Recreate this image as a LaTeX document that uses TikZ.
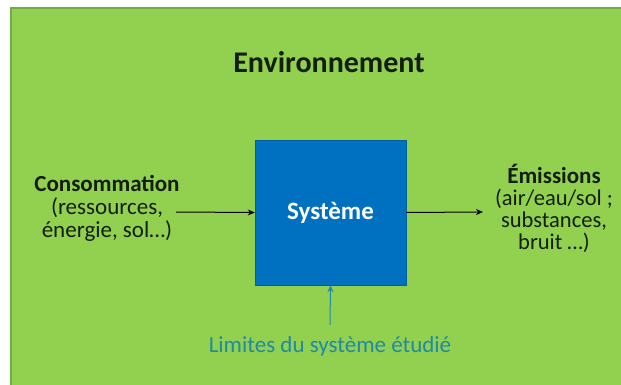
\documentclass[tikz,border=0pt]{standalone}
\usepackage{fontspec}
\setmainfont{Carlito}
\usetikzlibrary{arrows.meta}
\newcommand{\titrefont}{\fontsize{23}{22.5}\selectfont\bfseries}

\begin{document}
\begin{tikzpicture}[x=1pt,y=-1pt]
        %%couleurs et styles
        \definecolor{env_color}{RGB}{146,208,80}
        \definecolor{envline_color}{RGB}{112,173,71}
        \definecolor{sys_color}{RGB}{0,112,192}
        \definecolor{lim_color}{RGB}{31,138,165}
        \definecolor{text_color}{RGB}{20,30,15}
        \tikzset{txt/.style = {inner sep=0, align=center, text=text_color, font=\fontsize{23}{23}\selectfont}}
        \tikzset{flux/.style = {line width=1pt, -{Stealth[length=7pt,width=6pt]}}}

        \useasboundingbox (0,0) rectangle (621,385);

        %%environnement
        \draw[draw=envline_color, fill=env_color, line width=2pt] (11,8) rectangle (640,400);
        \node[txt, font=\fontsize{30}{30}\selectfont\bfseries, anchor=base] (env) at (329,73) {Environnement};

        %%systeme
        \node[draw=sys_color!85!black, fill=sys_color, minimum width=151, minimum height=145,
              text=white, font=\fontsize{25}{25}\selectfont\bfseries] (sys) at (330.5,212.5) {Système};

        %%entrees et sorties
        \node[txt, anchor=north] (cons) at (107,175) {{\titrefont Consommation}\\(ressources,\\énergie, sol…)};
        \node[txt, font=\fontsize{22.5}{22}\selectfont, anchor=north] (emis) at (554,164)
              {{\titrefont Émissions}\\(air/eau/sol ;\\substances,\\bruit …)};
        \coordinate (consout) at (176,212);
        \coordinate (emisin) at (483,212);
        \draw[flux] (consout) -- (sys.west);
        \draw[flux] (sys.east) -- (emisin);

        %%limites
        \node[txt, text=lim_color, anchor=base] (lim) at (330,352) {Limites du système étudié};
        \draw[flux, lim_color] ([yshift=11pt]lim.north) -- (sys.south);
\end{tikzpicture}
\end{document}
